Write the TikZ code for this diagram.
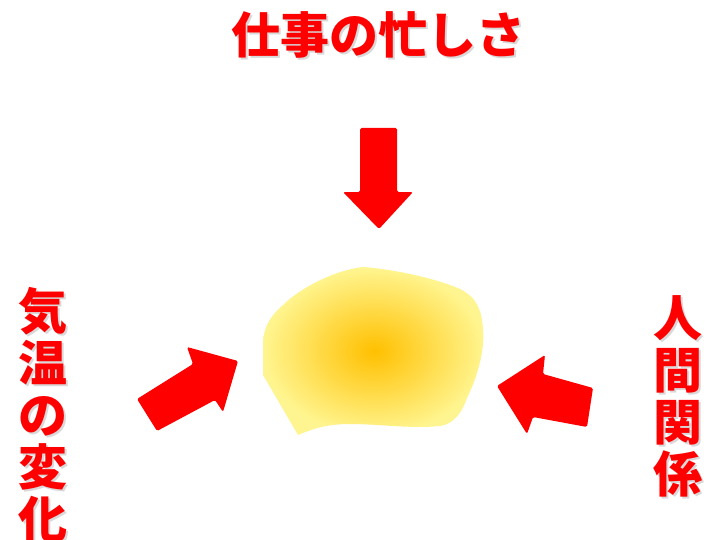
\documentclass[tikz,border=0pt]{standalone}
\usepackage{fontspec}
\newfontfamily\cjk{Noto Sans CJK JP}
\definecolor{arrowred}{HTML}{FF0000}
\definecolor{blobin}{HTML}{FFC000}
\definecolor{blobout}{HTML}{FFF590}
\tikzset{
  lbl/.style={font=\cjk\bfseries\fontsize{49}{52}\selectfont, text=arrowred, inner sep=0pt, align=center},
  lblshadow/.style={lbl, text=black, text opacity=0.15},
  bigarrow/.style={fill=arrowred, draw=none, rounded corners=1.5pt}
}
\begin{document}
\begin{tikzpicture}[x=1pt,y=-1pt]
\useasboundingbox (0,0) rectangle (714,540);
\fill[white] (0,0) rectangle (714,540);
% blob
\path[inner color=blobin, outer color=blobout, shading=radial]
  (363,267) .. controls (335,270) and (300,288) .. (283,305)
  .. controls (268,318) and (263,330) .. (263,345)
  -- (263,375) -- (298,435)
  .. controls (315,428) and (328,424) .. (350,424)
  .. controls (380,424) and (410,429) .. (440,426)
  .. controls (455,424) and (463,410) .. (467,398)
  .. controls (477,378) and (485,350) .. (483,330)
  .. controls (482,312) and (478,298) .. (460,289)
  .. controls (440,280) and (400,270) .. (363,267) -- cycle;
% arrows
\path[bigarrow] (360,128) -- (397,128) -- (397,192) -- (413,192) -- (379,229) -- (343,192) -- (360,192) -- cycle;
\path[bigarrow] (137,399) -- (193,364) -- (187,347) -- (238,361) -- (223,412) -- (215,400) -- (157,431) -- cycle;
\path[bigarrow] (593,388) -- (543,374) -- (545,355) -- (497,386) -- (527,434) -- (533,417) -- (587,427) -- cycle;
% labels with shadow
\node[lblshadow] at (380,37) {仕事の忙しさ};
\node[lbl] (top) at (378,35) {仕事の忙しさ};
\node[lblshadow] at (45,417) {気\\温\\の\\変\\化};
\node[lbl] (left) at (43,415) {気\\温\\の\\変\\化};
\node[lblshadow] at (680,398) {人\\間\\関\\係};
\node[lbl] (right) at (678,396) {人\\間\\関\\係};
\end{tikzpicture}
\end{document}
